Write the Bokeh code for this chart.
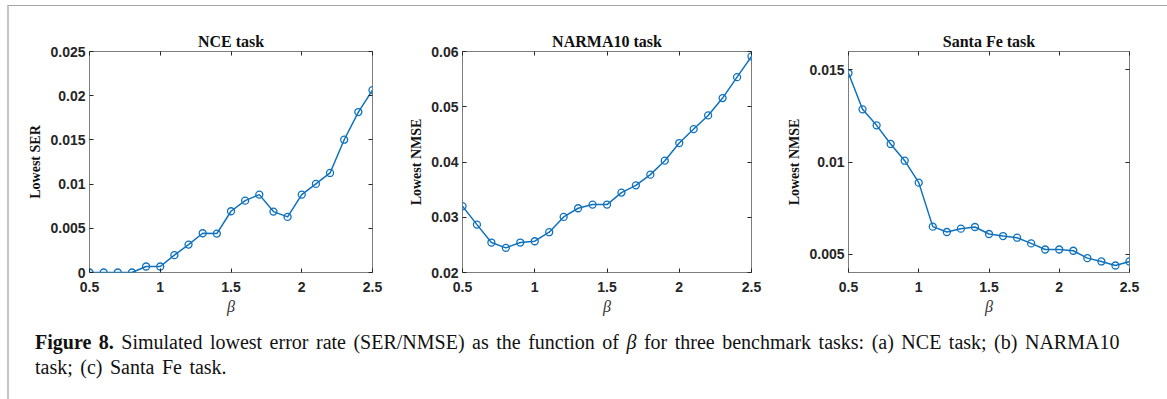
from bokeh.plotting import figure
from bokeh.models import Range1d, FixedTicker, LinearAxis, CustomJSTickFormatter, Div
from bokeh.layouts import row, column
from bokeh.embed import file_html
from bokeh.resources import INLINE

# beta sweep shared by all three tasks
beta = [0.5, 0.6, 0.7, 0.8, 0.9, 1.0, 1.1, 1.2, 1.3, 1.4, 1.5,
        1.6, 1.7, 1.8, 1.9, 2.0, 2.1, 2.2, 2.3, 2.4, 2.5]

# lowest symbol error rate, NCE task
nce_ser = [0.0, 0.0, 0.0, 0.0, 0.00068, 0.00068, 0.00196, 0.00316, 0.00444, 0.0044,
           0.00693, 0.00813, 0.00881, 0.00689, 0.00629, 0.00881, 0.01002, 0.01126,
           0.01502, 0.01815, 0.02063]

# lowest NMSE, NARMA10 task
narma_nmse = [0.0320, 0.02867, 0.02542, 0.02446, 0.02542, 0.02566, 0.02729, 0.03006,
              0.03163, 0.03229, 0.03229, 0.03446, 0.03578, 0.03771, 0.04024, 0.04343,
              0.04596, 0.04843, 0.05157, 0.05536, 0.0591]

# lowest NMSE, Santa Fe task
santafe_nmse = [0.01482, 0.01286, 0.01199, 0.01098, 0.01007, 0.00888, 0.00649, 0.0062,
                0.00638, 0.00647, 0.00609, 0.00598, 0.00589, 0.00558, 0.00525, 0.00525,
                0.00518, 0.00478, 0.0046, 0.00438, 0.0046]

x_ticks = [0.5, 1.0, 1.5, 2.0, 2.5]
x_tick_labels = ["0.5", "1", "1.5", "2", "2.5"]

nce_ticks = [0.0, 0.005, 0.01, 0.015, 0.02, 0.025]
nce_tick_labels = ["0", "0.005", "0.01", "0.015", "0.02", "0.025"]

narma_ticks = [0.02, 0.03, 0.04, 0.05, 0.06]
narma_tick_labels = ["0.02", "0.03", "0.04", "0.05", "0.06"]

santafe_ticks = [0.005, 0.01, 0.015]
santafe_tick_labels = ["0.005", "0.01", "0.015"]

titles = ["NCE task", "NARMA10 task", "Santa Fe task"]
y_labels = ["Lowest SER", "Lowest NMSE", "Lowest NMSE"]
x_label = "\u03b2"

caption_head = "Figure 8."
caption_body = ("Simulated lowest error rate (SER/NMSE) as the function of <i>\u03b2</i> "
                "for three benchmark tasks: (a) NCE task; (b) NARMA10<br>"
                "task; (c) Santa Fe task.")

LINE_BLUE = "#0f72be"
TICK_TEXT = "#262626"
BOX_GREY = "#7d7d7d"

TOP = 45
FRAME_H = 221
BOTTOM = 45


def label_formatter(vals, labs):
    return CustomJSTickFormatter(args=dict(vals=vals, labs=labs), code="""
        const i = vals.findIndex(v => Math.abs(v - tick) < 1e-9);
        return i >= 0 ? labs[i] : '';
    """)


def style_axis(ax, ticks):
    ax.ticker = FixedTicker(ticks=ticks)
    ax.axis_line_color = None
    ax.major_tick_in = 4
    ax.major_tick_out = 0
    ax.major_tick_line_color = TICK_TEXT
    ax.major_tick_line_width = 1
    ax.minor_tick_line_color = None


def panel(title, ylab, yvals, yr, yticks, ylabels, left, frame_w, right):
    p = figure(width=left + frame_w + right, height=TOP + FRAME_H + BOTTOM,
               x_range=Range1d(0.5, 2.5), y_range=Range1d(*yr),
               output_backend="svg", toolbar_location=None,
               min_border_left=left, min_border_right=right,
               min_border_top=TOP, min_border_bottom=BOTTOM)
    p.grid.visible = False
    p.outline_line_color = BOX_GREY
    p.outline_line_width = 1
    p.background_fill_color = "white"
    p.border_fill_color = "white"

    p.title.text = title
    p.title.text_font = "Liberation Serif"
    p.title.text_font_style = "bold"
    p.title.text_font_size = "16px"
    p.title.text_color = "#111111"
    p.title.align = "center"
    p.title.standoff = 4

    xa = p.xaxis[0]
    style_axis(xa, x_ticks)
    xa.formatter = label_formatter(x_ticks, x_tick_labels)
    xa.major_label_text_font = "Liberation Sans"
    xa.major_label_text_font_style = "bold"
    xa.major_label_text_font_size = "14px"
    xa.major_label_text_color = TICK_TEXT
    xa.major_label_standoff = 9
    xa.axis_label = x_label
    xa.axis_label_text_font = "Liberation Serif"
    xa.axis_label_text_font_style = "italic"
    xa.axis_label_text_font_size = "16px"
    xa.axis_label_text_color = "#333333"
    xa.axis_label_standoff = 3

    ya = p.yaxis[0]
    style_axis(ya, yticks)
    ya.formatter = label_formatter(yticks, ylabels)
    ya.major_label_text_font = "Liberation Sans"
    ya.major_label_text_font_style = "bold"
    ya.major_label_text_font_size = "14px"
    ya.major_label_text_color = TICK_TEXT
    ya.major_label_standoff = 4
    ya.axis_label = ylab
    ya.axis_label_text_font = "Liberation Serif"
    ya.axis_label_text_font_style = "bold"
    ya.axis_label_text_font_size = "14px"
    ya.axis_label_text_color = "#111111"
    ya.axis_label_standoff = 4

    # mirrored ticks on the top and right edges of the box
    top = LinearAxis()
    style_axis(top, x_ticks)
    top.formatter = CustomJSTickFormatter(code="return '';")
    top.major_label_standoff = 0
    p.add_layout(top, "above")
    rgt = LinearAxis()
    style_axis(rgt, yticks)
    rgt.formatter = CustomJSTickFormatter(code="return '';")
    rgt.major_label_standoff = 0
    p.add_layout(rgt, "right")

    p.line(beta, yvals, line_color=LINE_BLUE, line_width=1.5)
    p.scatter(beta, yvals, marker="circle", size=7, fill_color=None,
              line_color=LINE_BLUE, line_width=1.3)
    return p


p1 = panel(titles[0], y_labels[0], nce_ser, (0.0, 0.025),
           nce_ticks, nce_tick_labels, 80, 283, 23)
p2 = panel(titles[1], y_labels[1], narma_nmse, (0.02, 0.06),
           narma_ticks, narma_tick_labels, 67, 289, 29)
p3 = panel(titles[2], y_labels[2], santafe_nmse, (0.004, 0.016),
           santafe_ticks, santafe_tick_labels, 68, 281, 33)

caption = Div(
    text=f"<b>{caption_head}</b> {caption_body}",
    width=1153, height=90,
    styles={"font-family": "'Liberation Serif', serif", "font-size": "20px",
            "word-spacing": "2.5px",
            "line-height": "25px", "color": "#111111",
            "padding-left": "21px", "padding-top": "8px",
            "box-sizing": "border-box"},
)

page = column(row(p1, p2, p3), caption,
              margin=(5, 0, 0, 7),
              styles={"border-left": "2px solid #c4c4c4",
                      "border-top": "1px solid #a6a6a6",
                      "border-right": "2px solid #bbbbbb",
                      "background": "white"})

open("out.html", "w").write(file_html(page, INLINE))
